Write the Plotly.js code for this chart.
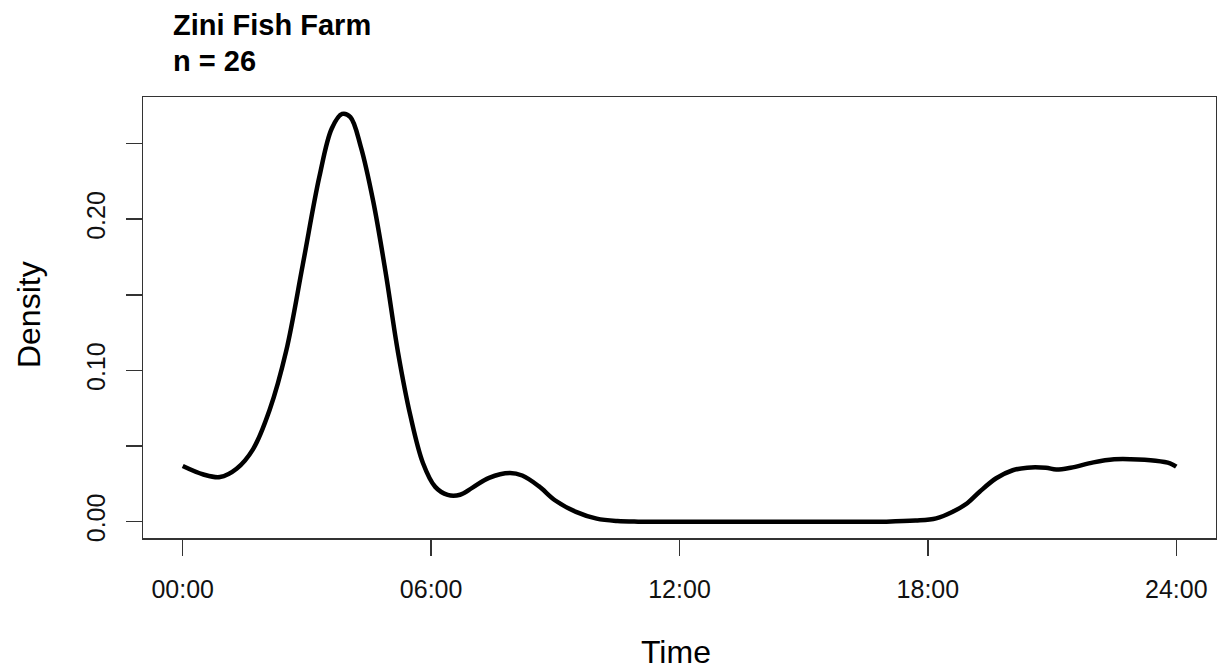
<!DOCTYPE html>
<html>
<head>
<meta charset="utf-8">
<script src="https://cdn.plot.ly/plotly-3.0.1.min.js"></script>
<style>html,body{margin:0;padding:0;background:#fff;}#chart{width:1217px;height:671px;}</style>
</head>
<body>
<div id="chart"></div>
<script>
// Time of day in hours
const hours = [0, 0.5, 0.9, 1.3, 1.7, 2.1, 2.5, 2.9, 3.3, 3.6, 3.85, 4.05, 4.3, 4.6, 4.9, 5.2, 5.5, 5.8, 6.1, 6.4, 6.7, 7.0, 7.4, 7.9, 8.2, 8.6, 9.0, 9.5, 10.0, 10.5, 11, 12, 13, 14, 15, 16, 17, 17.7, 18.2, 18.6, 18.95, 19.25, 19.65, 20.05, 20.4, 20.85, 21.1, 21.45, 22.0, 22.5, 22.9, 23.5, 23.85, 24.0];
// Kernel density
const density = [0.0368, 0.0312, 0.0295, 0.0350, 0.0480, 0.0740, 0.1130, 0.1700, 0.2280, 0.2600, 0.2696, 0.2675, 0.2480, 0.2120, 0.1650, 0.1120, 0.0700, 0.0390, 0.0230, 0.0177, 0.0178, 0.0225, 0.0290, 0.0322, 0.0305, 0.0235, 0.0140, 0.0065, 0.0020, 0.0004, 0, 0, 0, 0, 0, 0, 0, 0.0007, 0.0022, 0.0066, 0.0122, 0.0198, 0.0287, 0.0340, 0.0357, 0.0356, 0.0345, 0.0357, 0.0392, 0.0412, 0.0413, 0.0403, 0.0386, 0.0364];

const xTickVals = [0, 6, 12, 18, 24];
const xTickText = ['00:00', '06:00', '12:00', '18:00', '24:00'];
const yTickVals = [0, 0.05, 0.10, 0.15, 0.20, 0.25];
const yTickText = ['0.00', '', '0.10', '', '0.20', ''];

const titleLine1 = 'Zini Fish Farm';
const titleLine2 = 'n = 26';
const xLabel = 'Time';
const yLabel = 'Density';

const FONT = 'Liberation Sans, Arial, sans-serif';

const trace = {
  x: hours, y: density, type: 'scatter', mode: 'lines',
  line: {color: '#000', width: 4.5, shape: 'spline', smoothing: 1},
  hoverinfo: 'skip'
};

const axisCommon = {
  showgrid: false, zeroline: false, showline: true, mirror: true,
  linecolor: '#333', linewidth: 1.5,
  ticks: 'outside', ticklen: 16, tickwidth: 1.5, tickcolor: '#333',
  tickfont: {family: FONT, size: 25, color: '#111'}
};

const layout = {
  width: 1217, height: 671,
  margin: {l: 143, r: 1, t: 97, b: 133, pad: 0},
  paper_bgcolor: '#fff', plot_bgcolor: '#fff',
  showlegend: false,
  xaxis: Object.assign({}, axisCommon, {
    range: [-0.96, 24.96], tickmode: 'array', tickvals: xTickVals, ticktext: xTickText,
    ticklabelstandoff: 12
  }),
  yaxis: Object.assign({}, axisCommon, {
    range: [-0.0108, 0.2808], tickmode: 'array', tickvals: yTickVals, ticktext: yTickText,
    tickangle: -90, ticklabelstandoff: 11
  }),
  annotations: [
    {text: '<b>' + titleLine1 + '</b>', xref: 'paper', yref: 'paper', x: 0.0261, y: 1.1633,
     xanchor: 'left', yanchor: 'middle', showarrow: false, font: {family: FONT, size: 29, color: '#000'}},
    {text: '<b>' + titleLine2 + '</b>', xref: 'paper', yref: 'paper', x: 0.0261, y: 1.0816,
     xanchor: 'left', yanchor: 'middle', showarrow: false, font: {family: FONT, size: 29, color: '#000'}},
    {text: xLabel, xref: 'paper', yref: 'paper', x: 0.4963, y: -0.2585,
     xanchor: 'center', yanchor: 'middle', showarrow: false, font: {family: FONT, size: 32, color: '#000'}},
    {text: yLabel, xref: 'paper', yref: 'paper', x: -0.1062, y: 0.5057, textangle: -90,
     xanchor: 'center', yanchor: 'middle', showarrow: false, font: {family: FONT, size: 32, color: '#000'}}
  ]
};

Plotly.newPlot('chart', [trace], layout, {displayModeBar: false, staticPlot: true});
</script>
</body>
</html>
